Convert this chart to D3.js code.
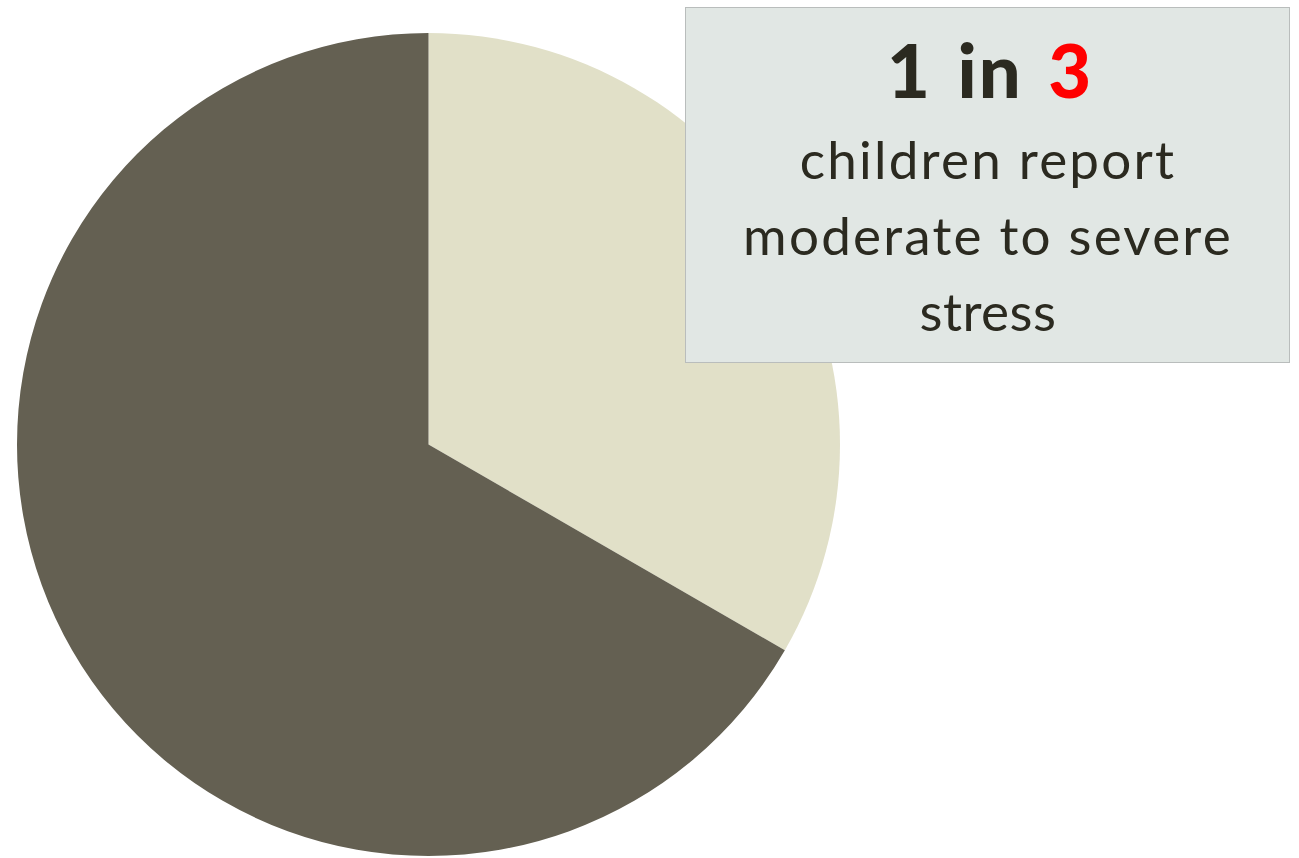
<!DOCTYPE html>
<html><head><meta charset="utf-8">
<script src="https://cdn.jsdelivr.net/npm/d3@7"></script>
<style>html,body{margin:0;padding:0;background:#fff;overflow:hidden}</style>
</head><body>
<svg id="c" width="1299" height="858"></svg>
<script>
const categories = ["Moderate to severe stress", "Other"];
const values = [1, 2];
const colors = ["#e1e0c8", "#646052"];
const headline = ["1 in ", "3"];
const bodyLines = ["children report", "moderate to severe", "stress"];

const svg = d3.select("#c");
const cx = 428.5, cy = 444.5, r = 411.5;
const pie = d3.pie().sort(null).value(d => d)(values);
const arc = d3.arc().innerRadius(0).outerRadius(r);
svg.append("g").attr("transform", `translate(${cx},${cy})`)
  .selectAll("path").data(pie).join("path")
  .attr("d", arc).attr("fill", (d, i) => colors[i]);

const bx = 685, by = 7, bw = 604, bh = 355;
svg.append("rect").attr("x", bx + 0.5).attr("y", by + 0.5).attr("width", bw).attr("height", bh)
  .attr("fill", "#e1e7e4").attr("stroke", "#b9bdbc").attr("stroke-width", 1);
const mx = bx + bw / 2;
const ff = "'Lato', 'Open Sans', sans-serif";
const h = svg.append("text").attr("x", mx + 3).attr("y", 98).attr("text-anchor", "middle")
  .attr("font-family", ff).attr("font-weight", 900).attr("font-size", 74)
  .attr("letter-spacing", 2).attr("word-spacing", 6).attr("fill", "#2b2a20");
h.append("tspan").text(headline[0]);
h.append("tspan").attr("fill", "#ff0000").text(headline[1]);
const ys = [179, 255, 331];
bodyLines.forEach((t, i) => {
  svg.append("text").attr("x", mx + 1).attr("y", ys[i]).attr("text-anchor", "middle")
    .attr("font-family", ff).attr("font-size", 53).attr("letter-spacing", i === 2 ? 0.5 : 2.2)
    .attr("fill", "#2b2a20").text(t);
});
</script>
</body></html>
